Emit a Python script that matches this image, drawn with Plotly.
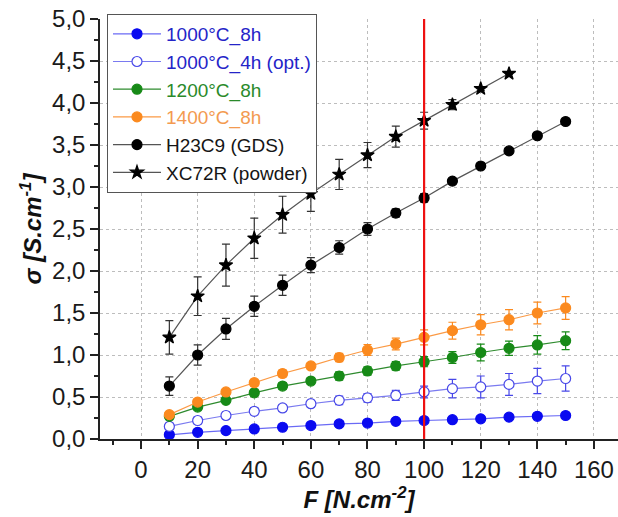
import plotly.graph_objects as go

F = [10, 20, 30, 40, 50, 60, 70, 80, 90, 100, 110, 120, 130, 140, 150]
F_xc = [10, 20, 30, 40, 50, 60, 70, 80, 90, 100, 110, 120, 130]

s1000_8h = [0.05, 0.08, 0.10, 0.12, 0.14, 0.16, 0.18, 0.19, 0.21, 0.22, 0.23, 0.24, 0.26, 0.27, 0.28]
e1000_8h = [0.01, 0.01, 0.01, 0.01, 0.01, 0.01, 0.01, 0.01, 0.01, 0.01, 0.01, 0.01, 0.01, 0.01, 0.01]

s1000_4h = [0.15, 0.22, 0.28, 0.33, 0.37, 0.42, 0.46, 0.49, 0.52, 0.56, 0.60, 0.62, 0.65, 0.69, 0.72]
e1000_4h = [0.04, 0.04, 0.04, 0.04, 0.04, 0.04, 0.05, 0.05, 0.06, 0.07, 0.11, 0.13, 0.13, 0.15, 0.15]

s1200_8h = [0.27, 0.38, 0.46, 0.55, 0.63, 0.69, 0.75, 0.81, 0.87, 0.92, 0.97, 1.03, 1.08, 1.12, 1.17]
e1200_8h = [0.02, 0.03, 0.03, 0.04, 0.04, 0.04, 0.05, 0.05, 0.05, 0.06, 0.07, 0.10, 0.085, 0.11, 0.105]

s1400_8h = [0.29, 0.44, 0.56, 0.67, 0.78, 0.87, 0.97, 1.06, 1.13, 1.21, 1.29, 1.36, 1.42, 1.50, 1.56]
e1400_8h = [0.02, 0.03, 0.03, 0.04, 0.04, 0.04, 0.05, 0.065, 0.07, 0.09, 0.10, 0.12, 0.12, 0.13, 0.135]

sH23C9 = [0.63, 1.00, 1.31, 1.58, 1.83, 2.07, 2.28, 2.50, 2.69, 2.87, 3.07, 3.25, 3.43, 3.61, 3.78]
eH23C9 = [0.11, 0.12, 0.125, 0.12, 0.12, 0.09, 0.08, 0.075, 0.05, 0.05, 0.03, 0.02, 0.02, 0.02, 0.02]

sXC72R = [1.21, 1.70, 2.07, 2.39, 2.67, 2.92, 3.15, 3.38, 3.60, 3.79, 3.98, 4.17, 4.35]
eXC72R = [0.20, 0.23, 0.25, 0.24, 0.22, 0.21, 0.18, 0.15, 0.125, 0.10, 0.06, 0.02, 0.01]

names = ["1000°C_8h", "1000°C_4h (opt.)", "1200°C_8h", "1400°C_8h", "H23C9 (GDS)", "XC72R (powder)"]
name_colors = ["#2424c8", "#2424c8", "#2a8a2a", "#f39a50", "#151515", "#151515"]

FONT = "Arial, Liberation Sans, sans-serif"

fig = go.Figure()

def add(x, y, e, idx, mcolor, lcolor, ecolor, symbol="circle", fill=None, size=10):
    label = f"<span style='color:{name_colors[idx]}'>{names[idx]}</span>"
    fig.add_trace(go.Scatter(
        x=x, y=y, name=label, mode="lines+markers",
        line=dict(color=lcolor, width=1.2),
        marker=dict(symbol=symbol, size=size, color=fill if fill else mcolor,
                    line=dict(color=mcolor, width=1.2)),
        error_y=dict(type="data", array=e, visible=True, color=ecolor, thickness=1.2, width=4),
    ))

add(F, s1000_8h, e1000_8h, 0, "#0a0af0", "#6a6af5", "#3a3af0")
add(F, s1000_4h, e1000_4h, 1, "#4848e8", "#7a7af0", "#4848e8", fill="white")
add(F, s1200_8h, e1200_8h, 2, "#178a17", "#2e8b2e", "#178a17")
add(F, s1400_8h, e1400_8h, 3, "#fb8a1f", "#fb9a45", "#fb8a1f")
add(F, sH23C9, eH23C9, 4, "#000000", "#555555", "#333333")
add(F_xc, sXC72R, eXC72R, 5, "#000000", "#555555", "#333333", symbol="star", size=10)

fig.add_shape(type="line", x0=100, x1=100, y0=0, y1=5, xref="x", yref="y",
              line=dict(color="#ee1111", width=2.2), layer="above")

axis_line = "#222222"
fig.update_layout(
    width=618, height=517,
    margin=dict(l=100, r=0, t=19, b=78),
    paper_bgcolor="white", plot_bgcolor="white",
    separators=",.",
    font=dict(family=FONT, color="#222222"),
    showlegend=True,
    legend=dict(
        x=0.0135, y=1.012, xanchor="left", yanchor="top",
        bgcolor="white", bordercolor="#555555", borderwidth=1,
        font=dict(family=FONT, size=19),
        tracegroupgap=0, itemwidth=48,
    ),
    xaxis=dict(
        range=[-14.5, 168.5], tick0=0, dtick=20, ticks="outside", ticklen=8,
        tickwidth=1.5, tickcolor=axis_line,
        showline=True, linecolor=axis_line, linewidth=1.5,
        showgrid=True, gridcolor="#bdbdbd", griddash="dot", gridwidth=1,
        zeroline=False,
        minor=dict(dtick=10, tick0=0, ticks="outside", ticklen=4, tickcolor=axis_line, showgrid=False),
        tickfont=dict(size=24, color="#1a1a1a"),
        title=dict(text="<b><i>F [N.cm<sup>-2</sup>]</i></b>", font=dict(size=24, color="#111111"), standoff=7),
    ),
    xaxis2=dict(
        overlaying="x", side="top", range=[-14.5, 168.5], tick0=0, dtick=20,
        ticks="inside", ticklen=7, tickwidth=1.5, tickcolor=axis_line,
        showline=True, linecolor=axis_line, linewidth=1.5,
        showticklabels=False, showgrid=False, zeroline=False,
        minor=dict(dtick=10, tick0=0, ticks="inside", ticklen=4, tickcolor=axis_line, showgrid=False),
    ),
    yaxis=dict(
        range=[0, 5], tick0=0, dtick=0.5, tickformat=".1f", ticks="outside", ticklen=8,
        tickwidth=1.5, tickcolor=axis_line,
        showline=True, linecolor=axis_line, linewidth=1.5,
        showgrid=True, gridcolor="#bdbdbd", griddash="dot", gridwidth=1,
        zeroline=False,
        minor=dict(dtick=0.25, tick0=0, ticks="outside", ticklen=4, tickcolor=axis_line, showgrid=False),
        tickfont=dict(size=24, color="#1a1a1a"),
        title=dict(text="<b><i>σ [S.cm<sup>-1</sup>]</i></b>", font=dict(size=24, color="#111111"), standoff=4),
    ),
)

fig.write_html("out.html")
